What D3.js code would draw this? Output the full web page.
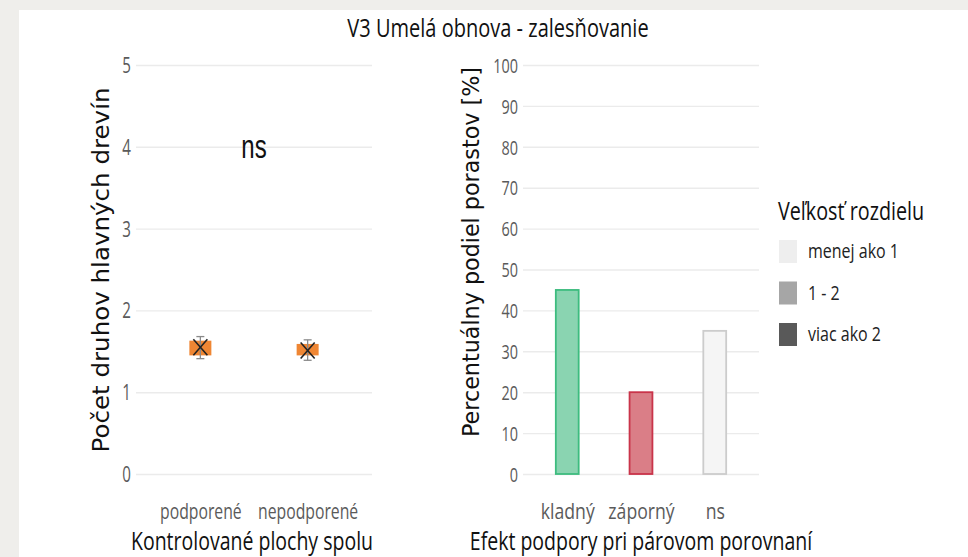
<!DOCTYPE html>
<html>
<head>
<meta charset="utf-8">
<style>
  body { margin: 0; background: #efeeeb; }
  svg { display: block; }
  .grid line { stroke: #ebebeb; stroke-width: 1.4; }
  .grid .domain { display: none; }
  .tick-lab text { fill: #5a5a5a; font-family: "Open Sans", sans-serif; }
  .tick-lab .domain, .tick-lab line { display: none; }
</style>
</head>
<body>
<div class="vis"></div>
<script src="https://cdn.jsdelivr.net/npm/d3@7"></script>
<script>
// ---- data ----
const leftCats = ["podporené", "nepodporené"];
const leftMean = [1.55, 1.51];
const leftBoxLo = [1.45, 1.45];
const leftBoxHi = [1.63, 1.59];
const leftErrLo = [1.41, 1.39];
const leftErrHi = [1.68, 1.64];
const leftTicks = [0, 1, 2, 3, 4, 5];

const rightCats = ["kladný", "záporný", "ns"];
const rightValues = [45, 20, 35];
const rightFill = ["#8ad4b1", "#da7e87", "#f5f5f5"];
const rightStroke = ["#3dbc7f", "#c9344a", "#cccccc"];
const rightTicks = [0, 10, 20, 30, 40, 50, 60, 70, 80, 90, 100];

const legendTitle = "Veľkosť rozdielu";
const legendLabels = ["menej ako 1", "1 - 2", "viac ako 2"];
const legendColors = ["#eeeeee", "#a6a6a6", "#595959"];

const W = 968, H = 557;

const svg = d3.select(".vis").append("svg")
  .attr("width", W).attr("height", H);

// page panel
svg.append("rect").attr("x", 0).attr("y", 0).attr("width", W).attr("height", H).attr("fill", "#efeeeb");
svg.append("rect").attr("x", 19).attr("y", 10).attr("width", W - 19).attr("height", H - 10).attr("fill", "#ffffff");

// squeeze text horizontally (reference font is condensed)
function squeeze(sel, k) {
  sel.each(function() {
    const len = this.getComputedTextLength();
    d3.select(this).attr("textLength", len * k).attr("lengthAdjust", "spacingAndGlyphs");
  });
}

// title
svg.append("text")
  .attr("x", 498).attr("y", 37)
  .attr("text-anchor", "middle")
  .style("font-family", "Open Sans").style("font-size", "26px").style("fill", "#111")
  .text("V3 Umelá obnova - zalesňovanie")
  .call(squeeze, 0.77);

// ---- left panel ----
const yL = d3.scaleLinear().domain([0, 5]).range([474, 65]);
// ggplot discrete expansion: 0.6 units each side
const xL = d3.scalePoint().domain(leftCats).range([136, 372]).padding(0.6);

svg.append("g").attr("class", "grid")
  .attr("transform", "translate(136,0)")
  .call(d3.axisLeft(yL).tickValues(leftTicks).tickSize(-236).tickFormat(""));

const gyl = svg.append("g").attr("class", "tick-lab")
  .attr("transform", "translate(131,0)")
  .call(d3.axisLeft(yL).tickValues(leftTicks).tickFormat(d3.format("d")).tickSize(0).tickPadding(0));
gyl.selectAll("text").style("font-size", "21px").attr("dy", "0.36em").call(squeeze, 0.72);

const gxl = svg.append("g").attr("class", "tick-lab")
  .attr("transform", "translate(0,500)")
  .call(d3.axisBottom(xL).tickSize(0).tickPadding(0));
gxl.selectAll("text").style("font-size", "21px").attr("dy", "0.9em").call(squeeze, 0.75);

svg.append("text")
  .attr("transform", "translate(109,270) rotate(-90)")
  .attr("text-anchor", "middle")
  .style("font-family", "DejaVu Sans").style("font-size", "23px").style("fill", "#111")
  .attr("textLength", 365).attr("lengthAdjust", "spacingAndGlyphs")
  .text("Počet druhov hlavných drevín");

svg.append("text")
  .attr("x", 252).attr("y", 550)
  .attr("text-anchor", "middle")
  .style("font-family", "Open Sans").style("font-size", "25px").style("fill", "#111")
  .text("Kontrolované plochy spolu")
  .call(squeeze, 0.78);

// boxes, error bars, crosses
const boxW = 22, capW = 8, crossW = 7;
leftCats.forEach((c, i) => {
  const cx = xL(c);
  svg.append("rect")
    .attr("x", cx - boxW / 2).attr("y", yL(leftBoxHi[i]))
    .attr("width", boxW).attr("height", yL(leftBoxLo[i]) - yL(leftBoxHi[i]))
    .attr("fill", "#ef8633");
  const eb = svg.append("g").attr("stroke", "#8a8a8a").attr("stroke-width", 1.3);
  eb.append("line").attr("x1", cx).attr("x2", cx).attr("y1", yL(leftErrLo[i])).attr("y2", yL(leftErrHi[i]));
  eb.append("line").attr("x1", cx - capW / 2).attr("x2", cx + capW / 2).attr("y1", yL(leftErrLo[i])).attr("y2", yL(leftErrLo[i]));
  eb.append("line").attr("x1", cx - capW / 2).attr("x2", cx + capW / 2).attr("y1", yL(leftErrHi[i])).attr("y2", yL(leftErrHi[i]));
  const my = yL(leftMean[i]);
  const cr = svg.append("g").attr("stroke", "#222").attr("stroke-width", 1.6);
  cr.append("line").attr("x1", cx - crossW).attr("x2", cx + crossW).attr("y1", my - 8).attr("y2", my + 8);
  cr.append("line").attr("x1", cx - crossW).attr("x2", cx + crossW).attr("y1", my + 8).attr("y2", my - 8);
});

svg.append("text")
  .attr("x", 254).attr("y", 158)
  .attr("text-anchor", "middle")
  .attr("transform", "translate(0,158) scale(1,1.4) translate(0,-158)")
  .style("font-family", "Liberation Sans").style("font-size", "24px").style("fill", "#111")
  .text("ns");

// ---- right panel ----
const yR = d3.scaleLinear().domain([0, 100]).range([474, 65]);
const xR = d3.scalePoint().domain(rightCats).range([523, 759]).padding(0.6);
const step = xR.step();
const barW = step * 0.31;

svg.append("g").attr("class", "grid")
  .attr("transform", "translate(523,0)")
  .call(d3.axisLeft(yR).tickValues(rightTicks).tickSize(-236).tickFormat(""));

const gyr = svg.append("g").attr("class", "tick-lab")
  .attr("transform", "translate(518,0)")
  .call(d3.axisLeft(yR).tickValues(rightTicks).tickSize(0).tickPadding(0));
gyr.selectAll("text").style("font-size", "20px").attr("dy", "0.36em").call(squeeze, 0.72);

const gxr = svg.append("g").attr("class", "tick-lab")
  .attr("transform", "translate(0,500)")
  .call(d3.axisBottom(xR).tickSize(0).tickPadding(0));
gxr.selectAll("text").style("font-size", "21px").attr("dy", "0.9em").call(squeeze, 0.84);

svg.append("text")
  .attr("transform", "translate(479,252) rotate(-90)")
  .attr("text-anchor", "middle")
  .style("font-family", "DejaVu Sans").style("font-size", "23px").style("fill", "#111")
  .attr("textLength", 370).attr("lengthAdjust", "spacingAndGlyphs")
  .text("Percentuálny podiel porastov [%]");

svg.append("text")
  .attr("x", 641).attr("y", 550)
  .attr("text-anchor", "middle")
  .style("font-family", "Open Sans").style("font-size", "25px").style("fill", "#111")
  .text("Efekt podpory pri párovom porovnaní")
  .call(squeeze, 0.78);

svg.selectAll(".bar").data(rightCats).enter().append("rect")
  .attr("class", "bar")
  .attr("x", d => xR(d) - barW / 2)
  .attr("y", (d, i) => yR(rightValues[i]))
  .attr("width", barW)
  .attr("height", (d, i) => yR(0) - yR(rightValues[i]))
  .attr("fill", (d, i) => rightFill[i])
  .attr("stroke", (d, i) => rightStroke[i])
  .attr("stroke-width", 1.8);

// ---- legend ----
const lg = svg.append("g").attr("transform", "translate(778,0)");
lg.append("text")
  .attr("x", 0).attr("y", 220)
  .style("font-family", "Open Sans").style("font-size", "25px").style("fill", "#111")
  .text(legendTitle)
  .call(squeeze, 0.79);
legendLabels.forEach((l, i) => {
  const y0 = 240 + i * 41.5;
  lg.append("rect").attr("x", 1).attr("y", y0).attr("width", 18).attr("height", 23).attr("fill", legendColors[i]);
  lg.append("text").attr("x", 30).attr("y", y0 + 18)
    .style("font-family", "Open Sans").style("font-size", "20px").style("fill", "#222")
    .text(l)
    .call(squeeze, 0.8);
});
</script>
</body>
</html>
